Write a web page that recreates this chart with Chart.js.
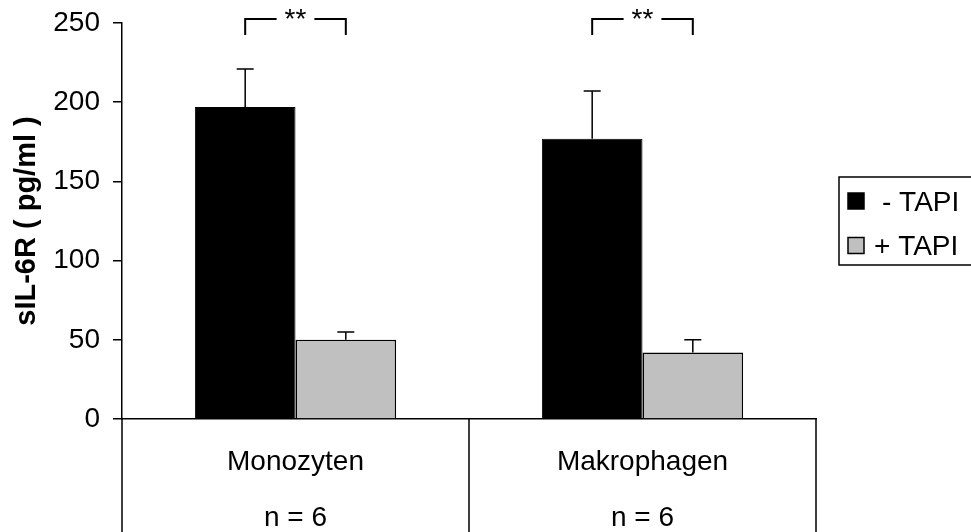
<!DOCTYPE html>
<html>
<head>
<meta charset="utf-8">
<script src="https://cdn.jsdelivr.net/npm/chart.js@4.4.0/dist/chart.umd.min.js"></script>
<style>
  html, body { margin: 0; padding: 0; background: #fff; }
  #il6-chart { display: block; }
</style>
</head>
<body>
<canvas id="il6-chart" width="971" height="532"></canvas>
<script>
/* sIL-6R Freisetzung, Monozyten vs. Makrophagen */
const cellTypes = ['Monozyten', 'Makrophagen'];
const sampleSizes = [6, 6];
const minusTapi = [197, 177];
const minusTapiErr = [24, 30];
const plusTapi = [50, 42];
const plusTapiErr = [5, 8];
const significance = ['**', '**'];
const sigBracket = [252.5, 242.5]; // top and foot of the bracket, in pg/ml
const yMax = 250;
const yStep = 50;

const FONT = '"Liberation Sans", Arial, sans-serif';

const errors = [minusTapiErr, plusTapiErr];

// error bars, upward only
const errorBars = {
  id: 'errorBars',
  afterDatasetsDraw(chart) {
    const ctx = chart.ctx;
    const y = chart.scales.y;
    ctx.save();
    ctx.strokeStyle = '#000';
    ctx.lineWidth = 1.5;
    chart.data.datasets.forEach((ds, di) => {
      const meta = chart.getDatasetMeta(di);
      meta.data.forEach((bar, i) => {
        const top = y.getPixelForValue(ds.data[i] + errors[di][i]);
        ctx.beginPath();
        ctx.moveTo(bar.x, bar.y);
        ctx.lineTo(bar.x, top);
        ctx.moveTo(bar.x - 8.5, top);
        ctx.lineTo(bar.x + 8.5, top);
        ctx.stroke();
      });
    });
    ctx.restore();
  }
};

// ** brackets above each pair
const sigMarks = {
  id: 'sigMarks',
  afterDatasetsDraw(chart) {
    const ctx = chart.ctx;
    const y = chart.scales.y;
    const m0 = chart.getDatasetMeta(0);
    const m1 = chart.getDatasetMeta(1);
    const yTop = y.getPixelForValue(sigBracket[0]);
    const yFoot = y.getPixelForValue(sigBracket[1]);
    ctx.save();
    ctx.strokeStyle = '#000';
    ctx.fillStyle = '#000';
    ctx.lineWidth = 2;
    ctx.font = '28px ' + FONT;
    ctx.textAlign = 'center';
    ctx.textBaseline = 'alphabetic';
    significance.forEach((s, i) => {
      const x1 = m0.data[i].x;
      const x2 = m1.data[i].x;
      const mid = (x1 + x2) / 2;
      const half = ctx.measureText(s).width / 2 + 8;
      ctx.beginPath();
      ctx.moveTo(x1, yFoot);
      ctx.lineTo(x1, yTop);
      ctx.lineTo(mid - half, yTop);
      ctx.moveTo(mid + half, yTop);
      ctx.lineTo(x2, yTop);
      ctx.lineTo(x2, yFoot);
      ctx.stroke();
      ctx.fillText(s, mid, yTop + 9);
    });
    ctx.restore();
  }
};

// table lines under the x axis
const tableLines = {
  id: 'tableLines',
  afterDraw(chart) {
    const ctx = chart.ctx;
    const x = chart.scales.x;
    const area = chart.chartArea;
    const xs = [area.left];
    for (let i = 1; i < cellTypes.length; i++) {
      xs.push((x.getPixelForTick(i - 1) + x.getPixelForTick(i)) / 2);
    }
    xs.push(area.right);
    ctx.save();
    ctx.strokeStyle = '#000';
    ctx.lineWidth = 1.5;
    ctx.beginPath();
    xs.forEach(px => {
      ctx.moveTo(px, area.bottom);
      ctx.lineTo(px, chart.height);
    });
    ctx.stroke();
    ctx.restore();
  }
};

// boxed legend on the right (runs past the right edge like the original)
const boxLegend = {
  id: 'boxLegend',
  afterDraw(chart) {
    const ctx = chart.ctx;
    ctx.save();
    ctx.lineWidth = 1.5;
    ctx.strokeStyle = '#000';
    ctx.strokeRect(839, 177, 160, 88);
    ctx.font = '28px ' + FONT;
    ctx.textBaseline = 'middle';
    ctx.textAlign = 'left';
    const rows = [201, 245.5];
    chart.data.datasets.forEach((ds, i) => {
      const cy = rows[i];
      ctx.fillStyle = ds.backgroundColor;
      ctx.fillRect(848, cy - 8, 16, 16);
      ctx.lineWidth = 1.5;
      ctx.strokeRect(848, cy - 8, 16, 16);
      ctx.fillStyle = '#000';
      ctx.fillText(ds.label, i === 0 ? 882 : 874, cy + 2);
    });
    ctx.restore();
  }
};

const data = {
  labels: cellTypes.map((c, i) => [c, 'n = ' + sampleSizes[i]]),
  datasets: [
    {
      label: '- TAPI',
      backgroundColor: '#000000',
      borderColor: '#000000',
      borderWidth: 1,
      data: minusTapi
    },
    {
      label: '+ TAPI',
      backgroundColor: '#c0c0c0',
      borderColor: '#000000',
      borderWidth: 1.5,
      data: plusTapi
    }
  ]
};

const config = {
  type: 'bar',
  data: data,
  options: {
    responsive: false,
    animation: false,
    layout: {
      padding: { top: 23, left: 0, right: 155, bottom: 0 }
    },
    datasets: {
      bar: { barPercentage: 1, categoryPercentage: 0.58 }
    },
    plugins: {
      legend: { display: false },
      tooltip: { enabled: false }
    },
    scales: {
      x: {
        grid: { display: false },
        border: { display: true, color: '#000', width: 1.5 },
        ticks: {
          color: '#000',
          padding: 7,
          font: { family: FONT, size: 28, lineHeight: '56px' }
        },
        afterFit(scale) { scale.height = 113; }
      },
      y: {
        min: 0,
        max: yMax,
        grid: {
          drawOnChartArea: false,
          drawTicks: true,
          tickLength: 9,
          color: '#000',
          lineWidth: 1.5
        },
        border: { display: true, color: '#000', width: 1.5 },
        ticks: {
          stepSize: yStep,
          color: '#000',
          padding: 13,
          font: { family: FONT, size: 28 }
        },
        title: {
          display: true,
          text: 'sIL-6R ( pg/ml )',
          color: '#000',
          padding: { top: 10, bottom: 0 },
          font: { family: FONT, size: 29, weight: 'bold' }
        },
        afterFit(scale) {
          scale.width = 122;
          scale.paddingTop = 0;
          scale.paddingBottom = 0;
        }
      }
    }
  },
  plugins: [errorBars, sigMarks, tableLines, boxLegend]
};

const il6Chart = new Chart(document.getElementById('il6-chart'), config);
</script>
</body>
</html>
